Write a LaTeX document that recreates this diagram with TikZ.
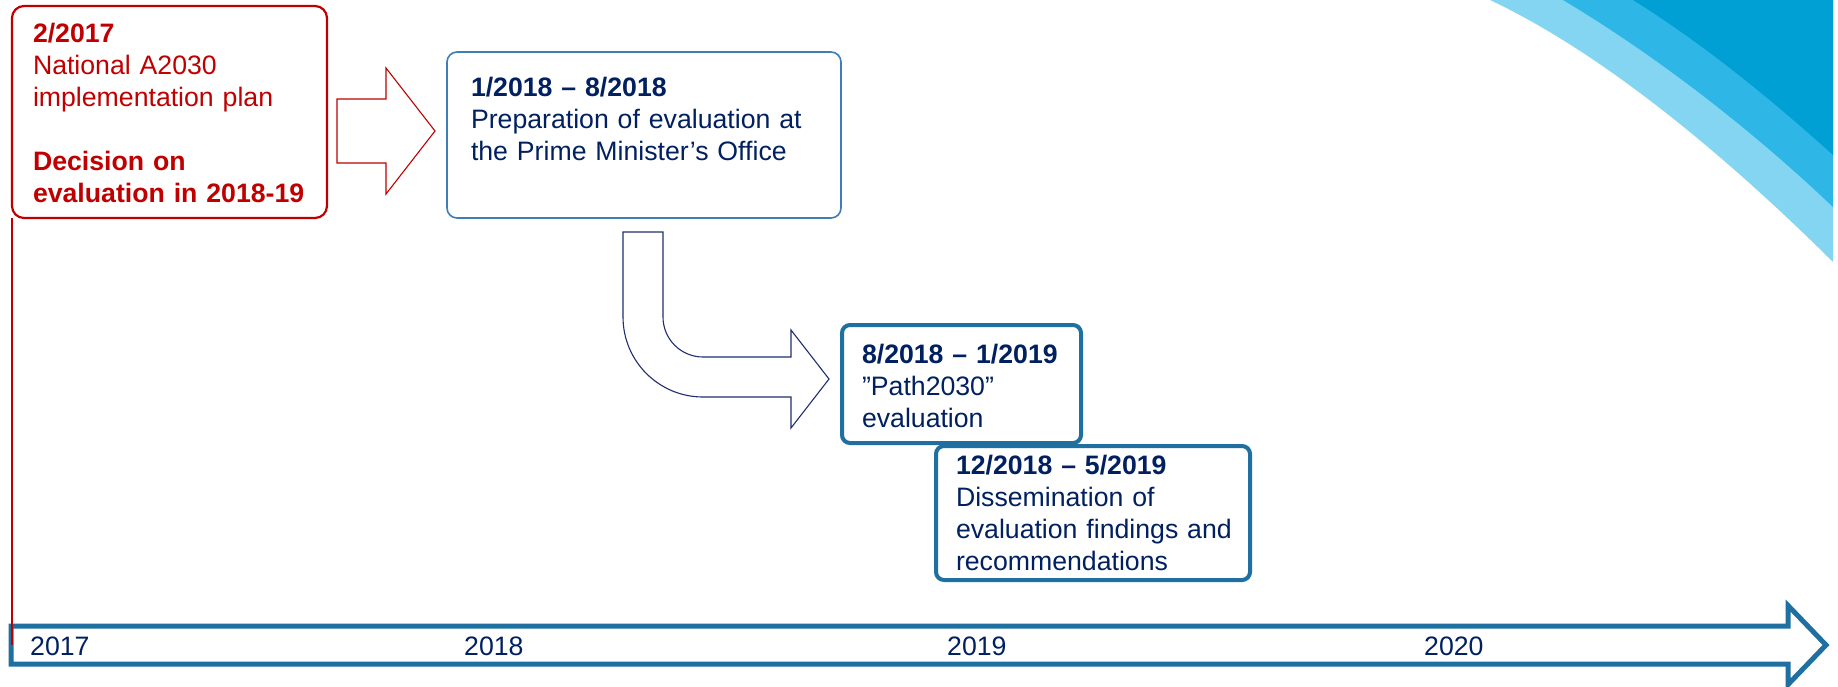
\documentclass[tikz,border=0pt]{standalone}
\usepackage{fontspec}
\setmainfont{Liberation Sans}
\definecolor{navy}{HTML}{002060}
\definecolor{darkred}{HTML}{C00000}
\definecolor{steel}{HTML}{1F6FA0}
\definecolor{boxblue}{HTML}{3C7EB5}
\definecolor{arrownavy}{HTML}{1F2F6E}
\definecolor{swA}{HTML}{84D5F1}
\definecolor{swB}{HTML}{2DB6E6}
\definecolor{swC}{HTML}{009FD4}
\begin{document}
\begin{tikzpicture}[x=1pt,y=-1pt,
  lbl/.style={font=\fontsize{26.67}{32}\selectfont, inner sep=0pt, outer sep=0pt, anchor=base west, align=left, text width=#1},
  yearlbl/.style={font=\fontsize{26.67}{32}\selectfont, inner sep=0pt, anchor=base west, text=navy},
  framebox/.style={rectangle, inner sep=0pt, outer sep=0pt, anchor=north west, fill=white},
  redframe/.style={framebox, draw=darkred, line width=2.2pt, rounded corners=12pt},
  thinframe/.style={framebox, draw=boxblue, line width=1.6pt, rounded corners=10pt},
  thickframe/.style={framebox, draw=steel, line width=4pt, rounded corners=8pt},
  blockarrow/.style={line width=1.1pt, line join=miter, fill=white},
]
\useasboundingbox (0,0) rectangle (1838,686);

% decorative swoosh, top right
\fill[swA] (1490,0) .. controls (1600,52) and (1720,150) .. (1833,262) -- (1833,0) -- cycle;
\fill[swB] (1563,0) .. controls (1655,55) and (1750,128) .. (1833,207) -- (1833,0) -- cycle;
\fill[swC] (1633,0) .. controls (1705,45) and (1772,100) .. (1833,155) -- (1833,0) -- cycle;

% time line arrow
\draw[steel, line width=5pt, line join=miter, miter limit=10]
  (11,626) -- (1788,626) -- (1788,605.5) -- (1826,645) -- (1788,684.5) -- (1788,664) -- (11,664) -- cycle;
\node[yearlbl] (y17) at (30,655) {2017};
\node[yearlbl] (y18) at (464,655) {2018};
\node[yearlbl] (y19) at (947,655) {2019};
\node[yearlbl] (y20) at (1424,655) {2020};

% red box
\node[redframe, minimum width=315pt, minimum height=212pt] (redbox) at (12,6) {};
\coordinate (redfoot) at (12,645);
\draw[darkred, line width=1.6pt] (redbox.south west) -- (redfoot);
\node[lbl=290pt, text=darkred] (redtext) at (33,42)
  {\textbf{2/2017}\\National A2030\\implementation plan\\[32pt]\textbf{Decision on}\\\textbf{evaluation in 2018-19}};

% red block arrow
\draw[blockarrow, draw=darkred]
  (337,99) -- (386,99) -- (386,68) -- (435,131) -- (386,194) -- (386,163) -- (337,163) -- cycle;

% box 1
\node[thinframe, minimum width=394pt, minimum height=166pt] (box1) at (447,52) {};
\node[lbl=360pt, text=navy] (text1) at (471,96)
  {\textbf{1/2018 – 8/2018}\\Preparation of evaluation at\\the Prime Minister’s Office};

% bent block arrow
\draw[blockarrow, draw=arrownavy]
  (623,232) -- (663,232) -- (663,317) arc[start angle=180, end angle=90, radius=40]
  -- (791,357) -- (791,330) -- (829,379) -- (791,428) -- (791,397) -- (703,397)
  arc[start angle=90, end angle=180, radius=80] -- cycle;

% box 2
\node[thickframe, minimum width=239pt, minimum height=118pt] (box2) at (842,325) {};
\node[lbl=210pt, text=navy] (text2) at (862,363)
  {\textbf{8/2018 – 1/2019}\\”Path2030”\\evaluation};

% box 3
\node[thickframe, minimum width=314pt, minimum height=134pt] (box3) at (936,446) {};
\node[lbl=290pt, text=navy] (text3) at (956,474)
  {\textbf{12/2018 – 5/2019}\\Dissemination of\\evaluation findings and\\recommendations};
\end{tikzpicture}
\end{document}
